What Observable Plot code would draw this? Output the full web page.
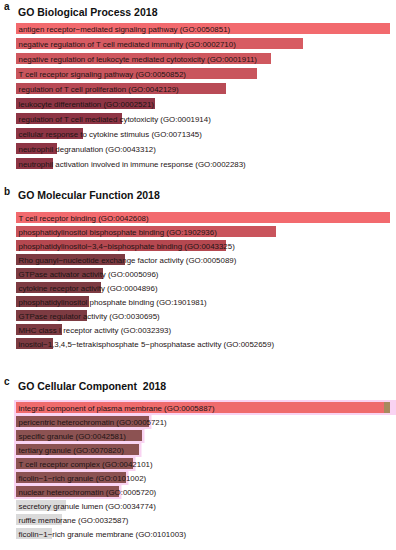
<!DOCTYPE html>
<html>
<head>
<meta charset="utf-8">
<script src="https://cdn.jsdelivr.net/npm/d3@7"></script>
<script src="https://cdn.jsdelivr.net/npm/@observablehq/plot@0.6"></script>
<style>
  html, body { margin: 0; padding: 0; background: #fff; }
  #wrap { position: relative; width: 396px; height: 550px; font-family: "Liberation Sans", Arial, sans-serif; }
  .lab { position: absolute; font-weight: bold; font-size: 10px; color: #111; }
  .ttl { position: absolute; font-weight: bold; font-size: 10.5px; color: #111; white-space: pre; }
  .pl { position: absolute; left: 0; }
</style>
</head>
<body>
<div id="wrap"></div>
<script>
// ---------- data ----------
const titles = ["GO Biological Process 2018", "GO Molecular Function 2018", "GO Cellular Component  2018"];
const panelLabels = ["a", "b", "c"];

const termsA = [
  "antigen receptor\u2212mediated signaling pathway (GO:0050851)",
  "negative regulation of T cell mediated immunity (GO:0002710)",
  "negative regulation of leukocyte mediated cytotoxicity (GO:0001911)",
  "T cell receptor signaling pathway (GO:0050852)",
  "regulation of T cell proliferation (GO:0042129)",
  "leukocyte differentiation (GO:0002521)",
  "regulation of T cell mediated cytotoxicity (GO:0001914)",
  "cellular response to cytokine stimulus (GO:0071345)",
  "neutrophil degranulation (GO:0043312)",
  "neutrophil activation involved in immune response (GO:0002283)"
];
const scoresA = [374, 287, 255, 241, 210, 139, 106, 67, 41, 37];

const termsB = [
  "T cell receptor binding (GO:0042608)",
  "phosphatidylinositol bisphosphate binding (GO:1902936)",
  "phosphatidylinositol\u22123,4\u2212bisphosphate binding (GO:0043325)",
  "Rho guanyl\u2212nucleotide exchange factor activity (GO:0005089)",
  "GTPase activator activity (GO:0005096)",
  "cytokine receptor activity (GO:0004896)",
  "phosphatidylinositol phosphate binding (GO:1901981)",
  "GTPase regulator activity (GO:0030695)",
  "MHC class I receptor activity (GO:0032393)",
  "inositol\u22121,3,4,5\u2212tetrakisphosphate 5\u2212phosphatase activity (GO:0052659)"
];
const scoresB = [374, 260, 210, 109, 87, 85, 73, 71, 46, 37];

const termsC = [
  "integral component of plasma membrane (GO:0005887)",
  "pericentric heterochromatin (GO:0005721)",
  "specific granule (GO:0042581)",
  "tertiary granule (GO:0070820)",
  "T cell receptor complex (GO:0042101)",
  "ficolin\u22121\u2212rich granule (GO:0101002)",
  "nuclear heterochromatin (GO:0005720)",
  "secretory granule lumen (GO:0034774)",
  "ruffle membrane (GO:0032587)",
  "ficolin\u22121\u2212rich granule membrane (GO:0101003)"
];
const scoresC = [374, 133, 126, 123, 117, 110, 103, 50, 46, 36];
const tipC = [6, 0, 0, 0, 0, 0, 0, 0, 0, 0];

// ---------- styles ----------
const colorsA = ["#f26a6e", "#d75b62", "#cf585f", "#c9555d", "#b94b56", "#8e3545", "#8e3545", "#8e3545", "#8e3545", "#8e3545"];
const colorsB = ["#f26a6e", "#c9545c", "#b54850", "#7d3b42", "#7d3b42", "#7d3b42", "#7d3b42", "#7d3b42", "#7d3b42", "#7d3b42"];
const colorsC = ["#ef6b6c", "#8c5252", "#8c5252", "#8c5252", "#8c5252", "#8c5252", "#8c5252", "#dadada", "#dadada", "#dadada"];
const haloC = ["#f9d3f2", "#f9d3f2", "#f9d3f2", "#f9d3f2", "#f9d3f2", "#f9d3f2", "#f9d3f2", null, null, null];

const layout = [
  {lab: [4, 1], ttl: [18, 6], top: 19, h: 155},
  {lab: [4, 186], ttl: [18, 189], top: 204, h: 153},
  {lab: [4, 376], ttl: [18, 380], top: 394, h: 152}
];

const wrap = document.getElementById("wrap");
const xMax = 374;

function panel(i, terms, scores, colors, opts = {}) {
  const L = layout[i];
  const lab = document.createElement("div");
  lab.className = "lab"; lab.textContent = panelLabels[i];
  lab.style.left = L.lab[0] + "px"; lab.style.top = L.lab[1] + "px";
  wrap.appendChild(lab);
  const t = document.createElement("div");
  t.className = "ttl"; t.textContent = titles[i];
  t.style.left = L.ttl[0] + "px"; t.style.top = L.ttl[1] + "px";
  wrap.appendChild(t);

  const data = terms.map((term, k) => ({term, score: scores[k], color: colors[k], tip: opts.tip ? opts.tip[k] : 0, halo: opts.halo ? opts.halo[k] : null}));
  const marks = [];
  if (opts.halo) {
    marks.push(Plot.barX(data.filter(d => d.halo && d.tip > 0), {x1: 0, x2: xMax + 6, y: "term", fill: d => d.halo, insetTop: -2, insetBottom: -2, insetLeft: -2}));
    marks.push(Plot.barX(data.filter(d => d.halo), {x1: 0, x2: "score", y: "term", fill: d => d.halo, insetTop: -2, insetBottom: -2, insetLeft: -2, insetRight: -2.5}));
  }
  marks.push(Plot.barX(data, {x1: 0, x2: d => d.score - d.tip, y: "term", fill: d => d.color}));
  if (opts.tip) {
    marks.push(Plot.barX(data.filter(d => d.tip > 0), {x1: d => d.score - d.tip, x2: "score", y: "term", fill: "#a88a5e"}));
  }
  marks.push(Plot.text(data, {x: 0, y: "term", text: "term", dx: 2, textAnchor: "start", fill: "#1e1414", fontSize: 7.9, fontFamily: "Liberation Sans, Arial, sans-serif"}));

  const svg = Plot.plot({
    width: 396, height: L.h,
    marginLeft: 16, marginRight: 6, marginTop: 0, marginBottom: 0,
    x: {domain: [0, xMax], axis: null},
    y: {domain: terms, axis: null, padding: 0.25},
    style: {background: "transparent", overflow: "visible"},
    marks
  });
  svg.classList.add("pl");
  svg.style.top = L.top + "px";
  wrap.appendChild(svg);
}

panel(0, termsA, scoresA, colorsA);
panel(1, termsB, scoresB, colorsB);
panel(2, termsC, scoresC, colorsC, {tip: tipC, halo: haloC});
</script>
</body>
</html>
